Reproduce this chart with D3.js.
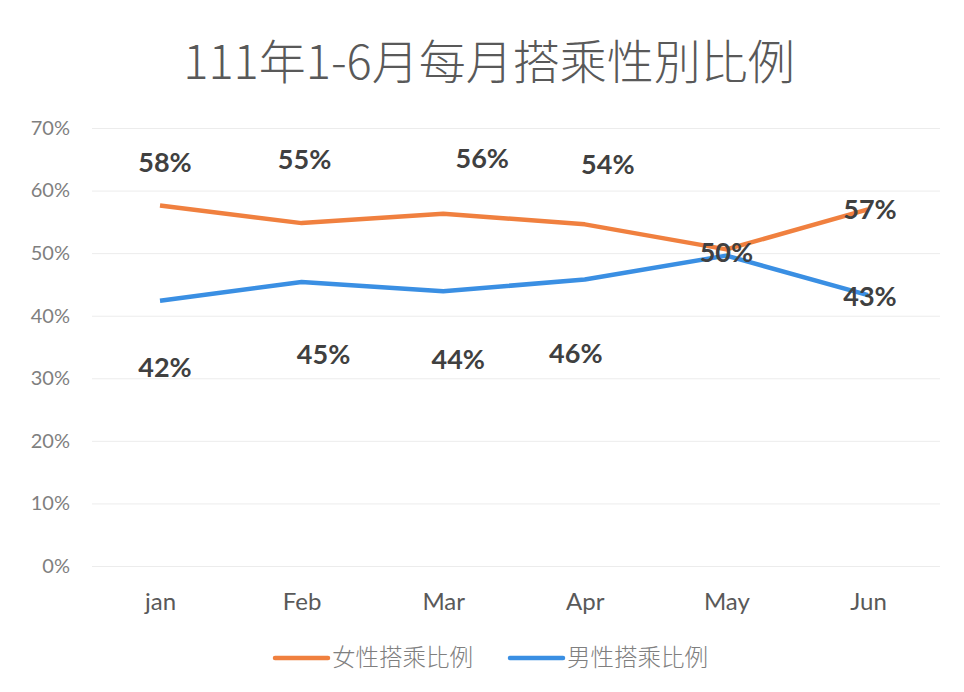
<!DOCTYPE html>
<html>
<head>
<meta charset="utf-8">
<script src="https://d3js.org/d3.v7.min.js"></script>
<style>
  body { margin: 0; background: #fff; }
  svg { display: block; }
</style>
</head>
<body>
<svg width="964" height="692"></svg>
<script>
// chart data
var months = ["jan", "Feb", "Mar", "Apr", "May", "Jun"];
var femaleRate = [57.6, 54.8, 56.3, 54.6, 50.6, 57.0];
var maleRate = [42.4, 45.4, 43.9, 45.8, 49.6, 43.3];
var femaleLabels = ["58%", "55%", "56%", "54%", "50%", "57%"];
var maleLabels = ["42%", "45%", "44%", "46%", "", "43%"];
var seriesNames = ["女性搭乘比例", "男性搭乘比例"];
var yTicks = [0, 10, 20, 30, 40, 50, 60, 70];
var title = "111年1-6月每月搭乘性別比例";

// label nudges (excel labels were dragged by hand)
var femaleNudge = [[5, -44], [3, -64], [39, -56], [23, -60], [0, 3], [2, 0]];
var maleNudge = [[5, 66], [22, 72], [15, 68], [-9, 74], [0, 0], [2, 1]];

var svg = d3.select("svg");
var cjk = "'Noto Sans CJK TC', 'Noto Sans CJK SC', sans-serif";
var latin = "Lato, 'Open Sans', sans-serif";

var xs = d3.scalePoint().domain(months).range([160, 868]);
var ys = d3.scaleLinear().domain([0, 70]).range([566, 128]);

svg.append("text")
    .attr("x", 489).attr("y", 79)
    .attr("text-anchor", "middle")
    .style("font-family", cjk)
    .style("font-weight", "300")
    .style("font-size", "47px")
    .style("fill", "#595959")
    .text(title);

// gridlines + y labels
var yAxis = svg.append("g")
    .attr("transform", "translate(92,0)")
    .call(d3.axisLeft(ys).tickValues(yTicks).tickSize(-848).tickPadding(22).tickFormat(function(d) { return d + "%"; }));
yAxis.select(".domain").remove();
yAxis.selectAll("line").attr("stroke", "#ececec").attr("stroke-width", 1);
yAxis.selectAll("text")
    .style("font-family", latin)
    .style("font-size", "20px")
    .style("fill", "#7f7f7f");

var xAxis = svg.append("g")
    .attr("transform", "translate(0,566)")
    .call(d3.axisBottom(xs).tickSize(0).tickPadding(27));
xAxis.select(".domain").remove();
xAxis.selectAll("text")
    .style("font-family", latin)
    .style("font-size", "24px")
    .style("fill", "#595959");

var line = d3.line()
    .x(function(d, i) { return xs(months[i]); })
    .y(function(d) { return ys(d); });

var colors = ["#F0803F", "#3A8FE3"];

svg.append("path").datum(femaleRate)
    .attr("fill", "none").attr("stroke", colors[0]).attr("stroke-width", 4.5)
    .attr("stroke-linejoin", "round").attr("d", line);
svg.append("path").datum(maleRate)
    .attr("fill", "none").attr("stroke", colors[1]).attr("stroke-width", 4.5)
    .attr("stroke-linejoin", "round").attr("d", line);

function drawLabels(values, labels, nudge) {
    svg.append("g").selectAll("text")
        .data(values)
        .enter()
        .append("text")
        .attr("x", function(d, i) { return xs(months[i]) + nudge[i][0]; })
        .attr("y", function(d, i) { return ys(d) + nudge[i][1] + 10; })
        .attr("text-anchor", "middle")
        .style("font-family", latin)
        .style("font-weight", "bold")
        .style("font-size", "27px")
        .style("fill", "#404040")
        .text(function(d, i) { return labels[i]; });
}
drawLabels(femaleRate, femaleLabels, femaleNudge);
drawLabels(maleRate, maleLabels, maleNudge);

// legend
var legendX = [275, 510];
seriesNames.forEach(function(name, i) {
    var g = svg.append("g").attr("transform", "translate(" + legendX[i] + ",658)");
    g.append("line").attr("x1", 0).attr("x2", 53).attr("y1", 0).attr("y2", 0)
        .attr("stroke", colors[i]).attr("stroke-width", 4.5).attr("stroke-linecap", "round");
    g.append("text").attr("x", 57).attr("y", 8)
        .style("font-family", cjk)
        .style("font-weight", "300")
        .style("font-size", "23.5px")
        .style("fill", "#7f7f7f")
        .text(name);
});
</script>
</body>
</html>
